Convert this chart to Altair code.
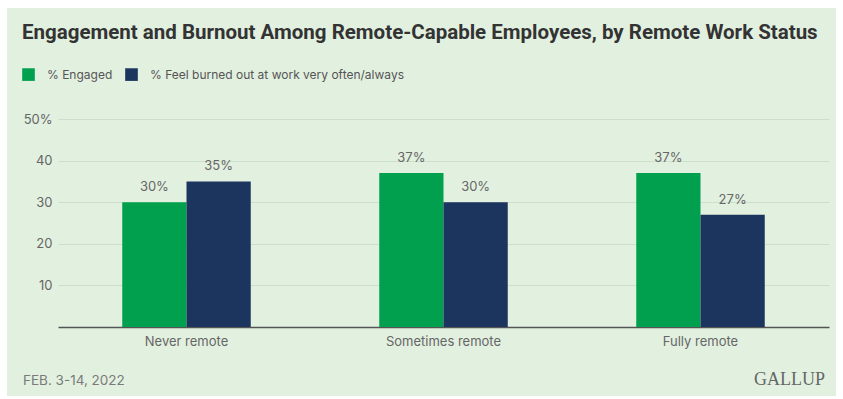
import altair as alt
import pandas as pd

categories = ["Never remote", "Sometimes remote", "Fully remote"]
series = ["% Engaged", "% Feel burned out at work very often/always"]
engaged = [30, 37, 37]
burnout = [35, 30, 27]
y_ticks = [10, 20, 30, 40, 50]

rows = []
for c, e, b in zip(categories, engaged, burnout):
    rows.append({"status": c, "series": series[0], "value": e})
    rows.append({"status": c, "series": series[1], "value": b})
df = pd.DataFrame(rows)
df["label"] = df["value"].astype(str) + "%"

BG = "#e2f0e0"
TXT = "#666666"

xenc = alt.X("status:N", sort=categories, title=None,
             scale=alt.Scale(paddingInner=0.5, paddingOuter=0.25),
             axis=alt.Axis(labelAngle=0, ticks=False, domain=True, domainColor="#555555",
                           domainWidth=1.5, labelFontSize=13, labelColor=TXT,
                           labelPadding=8, labelFont="Inter", grid=False))
yenc = alt.Y("value:Q", title=None,
             scale=alt.Scale(domain=[0, 50], nice=False),
             axis=alt.Axis(values=y_ticks, ticks=False, domain=False, grid=True,
                           gridColor="#cddfca", gridWidth=1, labelFontSize=13,
                           labelColor=TXT, labelPadding=6, labelFont="Inter",
                           labelExpr="datum.value == 50 ? '50%' : datum.label"))

base = alt.Chart(df)

bars = base.mark_bar().encode(
    x=xenc,
    y=yenc,
    xOffset=alt.XOffset("series:N", sort=series),
    color=alt.Color("series:N", sort=series,
                    scale=alt.Scale(domain=series, range=["#00a04e", "#1c355e"]),
                    legend=alt.Legend(orient="none", legendX=-36, legendY=-51,
                                      direction="horizontal", title=None,
                                      symbolType="square", symbolSize=160,
                                      symbolStrokeWidth=0, symbolOpacity=1,
                                      labelFontSize=12, labelColor="#555555",
                                      labelFont="Inter", columnPadding=12,
                                      labelOffset=12, labelLimit=0)),
)

labels = base.mark_text(dy=-11, fontSize=13, color=TXT, font="Inter",
                        baseline="alphabetic").encode(
    x=alt.X("status:N", sort=categories),
    xOffset=alt.XOffset("series:N", sort=series),
    y="value:Q",
    text="label:N",
)

one = pd.DataFrame({"a": [0]})
frame = alt.Chart(one).mark_rect(fill=None, stroke="white", strokeWidth=16).encode(
    x=alt.value(-59), x2=alt.value(786), y=alt.value(-119), y2=alt.value(285))

title = alt.Chart(one).mark_text(
    text="Engagement and Burnout Among Remote-Capable Employees, by Remote Work Status",
    fontSize=20.5, fontWeight="bold", font="Roboto", color="#333333",
    align="left", baseline="middle").encode(x=alt.value(-36), y=alt.value(-86))

footer = alt.Chart(one).mark_text(
    text="FEB. 3-14, 2022", fontSize=13.5, font="Inter", color="#7a7a7a",
    align="left", baseline="middle").encode(x=alt.value(-35), y=alt.value(262))

gallup = alt.Chart(one).mark_text(
    text="GALLUP", fontSize=18, font="Liberation Serif", color="#666666",
    align="right", baseline="middle").encode(x=alt.value(767), y=alt.value(261))

chart = alt.layer(bars, labels, title, footer, gallup, frame).properties(
    width=771, height=208,
    autosize=alt.AutoSizeParams(type="none"),
    padding={"left": 58, "top": 119, "right": 14, "bottom": 72},
    background=BG,
).configure_view(stroke=None)

chart.save("out.html", embed_options={"renderer": "svg", "actions": False})
